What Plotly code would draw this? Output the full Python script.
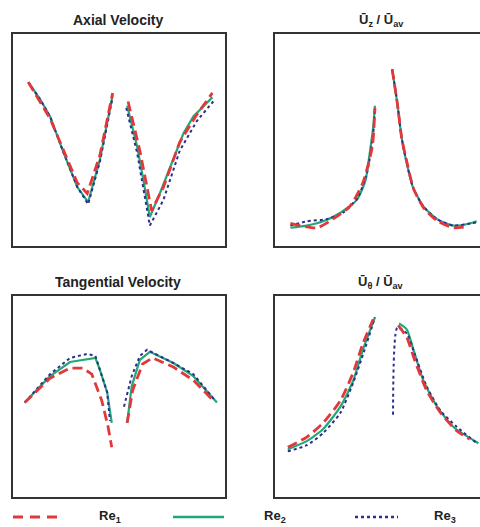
import plotly.graph_objects as go

# ---------------- data (r/R, normalised value) ----------------
# Axial velocity (top-left)
ax_r1_L = [-1.00, -0.76, -0.62, -0.46, -0.35, -0.21, -0.07]
ax_y1_L = [0.77, 0.60, 0.46, 0.30, 0.25, 0.43, 0.72]
ax_r1_R = [0.10, 0.23, 0.36, 0.49, 0.67, 0.86, 1.03]
ax_y1_R = [0.68, 0.45, 0.17, 0.28, 0.49, 0.62, 0.72]
ax_r2_L = [-1.00, -0.87, -0.76, -0.62, -0.46, -0.34, -0.21, -0.07]
ax_y2_L = [0.77, 0.69, 0.61, 0.45, 0.28, 0.21, 0.41, 0.71]
ax_r2_R = [0.09, 0.20, 0.27, 0.34, 0.45, 0.60, 0.71, 0.82, 1.03]
ax_y2_R = [0.66, 0.47, 0.31, 0.14, 0.25, 0.41, 0.53, 0.61, 0.70]
ax_r3_L = [-1.00, -0.87, -0.76, -0.62, -0.46, -0.34, -0.21, -0.07]
ax_y3_L = [0.77, 0.69, 0.61, 0.45, 0.28, 0.20, 0.40, 0.70]
ax_r3_R = [0.08, 0.20, 0.34, 0.49, 0.67, 0.86, 1.04]
ax_y3_R = [0.65, 0.44, 0.10, 0.22, 0.45, 0.59, 0.68]

# Uz / Uav (top-right)
uz_r1_L = [-1.01, -0.70, -0.52, -0.32, -0.17, -0.06, -0.03]
uz_y1_L = [0.11, 0.09, 0.13, 0.19, 0.30, 0.47, 0.65]
uz_r1_R = [0.17, 0.23, 0.28, 0.35, 0.42, 0.54, 0.70, 0.88, 1.04]
uz_y1_R = [0.83, 0.67, 0.51, 0.38, 0.27, 0.18, 0.12, 0.09, 0.095]
uz_r2_L = [-1.01, -0.82, -0.63, -0.43, -0.24, -0.14, -0.09, -0.05, -0.03]
uz_y2_L = [0.09, 0.10, 0.12, 0.16, 0.22, 0.31, 0.44, 0.56, 0.66]
uz_r2_R = [0.17, 0.23, 0.28, 0.34, 0.41, 0.53, 0.69, 0.88, 1.07, 1.15]
uz_y2_R = [0.83, 0.67, 0.51, 0.39, 0.28, 0.19, 0.13, 0.10, 0.11, 0.12]
uz_r3_L = [-1.01, -0.82, -0.59, -0.40, -0.23, -0.12, -0.05, -0.03]
uz_y3_L = [0.10, 0.12, 0.13, 0.16, 0.23, 0.35, 0.53, 0.65]
uz_r3_R = [0.17, 0.23, 0.28, 0.34, 0.41, 0.53, 0.69, 0.88, 1.07, 1.15]
uz_y3_R = [0.83, 0.67, 0.51, 0.39, 0.28, 0.19, 0.13, 0.10, 0.11, 0.115]

# Tangential velocity (bottom-left)
tg_r1_L = [-1.04, -0.76, -0.54, -0.40, -0.30, -0.19, -0.12, -0.08]
tg_y1_L = [0.47, 0.59, 0.64, 0.64, 0.61, 0.48, 0.35, 0.25]
tg_r1_R = [0.09, 0.15, 0.26, 0.37, 0.60, 0.82, 1.04]
tg_y1_R = [0.37, 0.53, 0.66, 0.69, 0.645, 0.58, 0.48]
tg_r2_L = [-1.04, -0.76, -0.54, -0.26, -0.21, -0.13, -0.08]
tg_y2_L = [0.47, 0.60, 0.67, 0.69, 0.63, 0.52, 0.37]
tg_r2_R = [0.09, 0.14, 0.23, 0.34, 0.60, 0.82, 1.08]
tg_y2_R = [0.37, 0.55, 0.68, 0.72, 0.665, 0.60, 0.47]
tg_r3_L = [-1.04, -0.76, -0.54, -0.35, -0.26, -0.21, -0.13, -0.10]
tg_y3_L = [0.47, 0.61, 0.69, 0.71, 0.70, 0.63, 0.52, 0.38]
tg_r3_R = [0.055, 0.14, 0.23, 0.31, 0.60, 0.82, 1.06]
tg_y3_R = [0.45, 0.60, 0.70, 0.73, 0.665, 0.61, 0.48]

# U_theta / Uav (bottom-right)
ut_r1_L = [-1.04, -0.82, -0.63, -0.43, -0.28, -0.17, -0.05]
ut_y1_L = [0.25, 0.30, 0.37, 0.48, 0.62, 0.76, 0.88]
ut_r1_R = [0.24, 0.34, 0.43, 0.57, 0.73, 0.92, 1.07]
ut_y1_R = [0.85, 0.79, 0.68, 0.53, 0.42, 0.33, 0.29]
ut_r2_L = [-1.04, -0.82, -0.63, -0.43, -0.28, -0.17, -0.03]
ut_y2_L = [0.24, 0.28, 0.34, 0.45, 0.58, 0.73, 0.89]
ut_r2_R = [0.25, 0.34, 0.41, 0.53, 0.69, 0.88, 1.17]
ut_y2_R = [0.86, 0.83, 0.74, 0.58, 0.45, 0.35, 0.27]
ut_r3_L = [-1.04, -0.82, -0.63, -0.43, -0.28, -0.15, -0.03]
ut_y3_L = [0.23, 0.26, 0.32, 0.42, 0.57, 0.73, 0.89]
ut_r3_R = [0.18, 0.23, 0.34, 0.43, 0.57, 0.73, 0.92, 1.15]
ut_y3_R = [0.41, 0.84, 0.81, 0.71, 0.55, 0.43, 0.35, 0.27]

titles = ["Axial Velocity", "Ū<sub>z</sub> / Ū<sub>av</sub>",
          "Tangential Velocity", "Ū<sub>θ</sub> / Ū<sub>av</sub>"]
legend_labels = ["Re<sub>1</sub>", "Re<sub>2</sub>", "Re<sub>3</sub>"]

# ---------------- styling ----------------
RED, GREEN, BLUE = "#e2383b", "#22a878", "#2c2f8e"
W, H = 480, 527
styles = {
    1: dict(color=RED, width=2.8, dash="10px,5px"),
    2: dict(color=GREEN, width=2.2, dash="solid"),
    3: dict(color=BLUE, width=2, dash="dot"),
}

panels = [
    ("x", "y", {1: (ax_r1_L, ax_y1_L, ax_r1_R, ax_y1_R),
                2: (ax_r2_L, ax_y2_L, ax_r2_R, ax_y2_R),
                3: (ax_r3_L, ax_y3_L, ax_r3_R, ax_y3_R)},
     (12, 226), (33, 247), [-1.18, 1.18], "linear"),
    ("x2", "y2", {1: (uz_r1_L, uz_y1_L, uz_r1_R, uz_y1_R),
                  2: (uz_r2_L, uz_y2_L, uz_r2_R, uz_y2_R),
                  3: (uz_r3_L, uz_y3_L, uz_r3_R, uz_y3_R)},
     (274, 480), (33, 247), [-1.2, 1.188], "spline"),
    ("x3", "y3", {1: (tg_r1_L, tg_y1_L, tg_r1_R, tg_y1_R),
                  2: (tg_r2_L, tg_y2_L, tg_r2_R, tg_y2_R),
                  3: (tg_r3_L, tg_y3_L, tg_r3_R, tg_y3_R)},
     (12, 226), (295, 498), [-1.18, 1.18], "linear"),
    ("x4", "y4", {1: (ut_r1_L, ut_y1_L, ut_r1_R, ut_y1_R),
                  2: (ut_r2_L, ut_y2_L, ut_r2_R, ut_y2_R),
                  3: (ut_r3_L, ut_y3_L, ut_r3_R, ut_y3_R)},
     (274, 480), (295, 498), [-1.2, 1.188], "spline"),
]

fig = go.Figure()
layout = {}
shapes = []
annotations = []
for i, (xa, ya, data, (px0, px1), (py0, py1), xr, shp) in enumerate(panels):
    for k in (2, 3, 1):
        rL, yL, rR, yR = data[k]
        for rr, yy in ((rL, yL), (rR, yR)):
            fig.add_trace(go.Scatter(
                x=rr, y=yy, xaxis=xa, yaxis=ya, mode="lines",
                line=dict(shape=shp, smoothing=0.6, **styles[k]),
                showlegend=False, hoverinfo="skip"))
    xkey = "xaxis" + xa[1:]
    ykey = "yaxis" + ya[1:]
    layout[xkey] = dict(domain=[px0 / W, px1 / W], range=xr, visible=False,
                        anchor=ya, fixedrange=True)
    layout[ykey] = dict(domain=[(H - py1) / H, (H - py0) / H], range=[0, 1],
                        visible=False, anchor=xa, fixedrange=True)
    shapes.append(dict(type="rect", xref="paper", yref="paper",
                       x0=px0 / W, x1=(px1 if px1 < W else 484) / W,
                       y0=(H - py1) / H, y1=(H - py0) / H,
                       line=dict(color="#333333", width=2)))
    annotations.append(dict(
        text="<b>" + titles[i] + "</b>", xref="paper", yref="paper",
        x=(118 if px0 < 100 else 381) / W, y=(H - (py0 - 13)) / H,
        showarrow=False, xanchor="center", yanchor="middle",
        font=dict(family="Liberation Sans, Arial, sans-serif",
                  size=14 if i % 2 == 0 else 13, color="#222222")))

# legend (drawn manually to match the original layout)
leg_y = (H - 517) / H
leg_items = [((13, 62), 97, 1), ((173, 224), 262, 2), ((355, 398), 432, 3)]
for (lx0, lx1), tx, k in leg_items:
    st = styles[k]
    shapes.append(dict(type="line", xref="paper", yref="paper",
                       x0=lx0 / W, x1=lx1 / W, y0=leg_y, y1=leg_y,
                       line=dict(color=st["color"], width=st["width"] + 0.4,
                                 dash="10px,7px" if k == 1 else st["dash"])))
    annotations.append(dict(
        text="<b>" + legend_labels[k - 1] + "</b>", xref="paper", yref="paper",
        x=tx / W, y=(H - 516) / H, showarrow=False, xanchor="left",
        yanchor="middle",
        font=dict(family="Liberation Sans, Arial, sans-serif", size=13,
                  color="#222222")))

fig.update_layout(
    width=W, height=H, margin=dict(l=0, r=0, t=0, b=0),
    paper_bgcolor="white", plot_bgcolor="white",
    showlegend=False, shapes=shapes, annotations=annotations, **layout)

fig.write_html("out.html")
